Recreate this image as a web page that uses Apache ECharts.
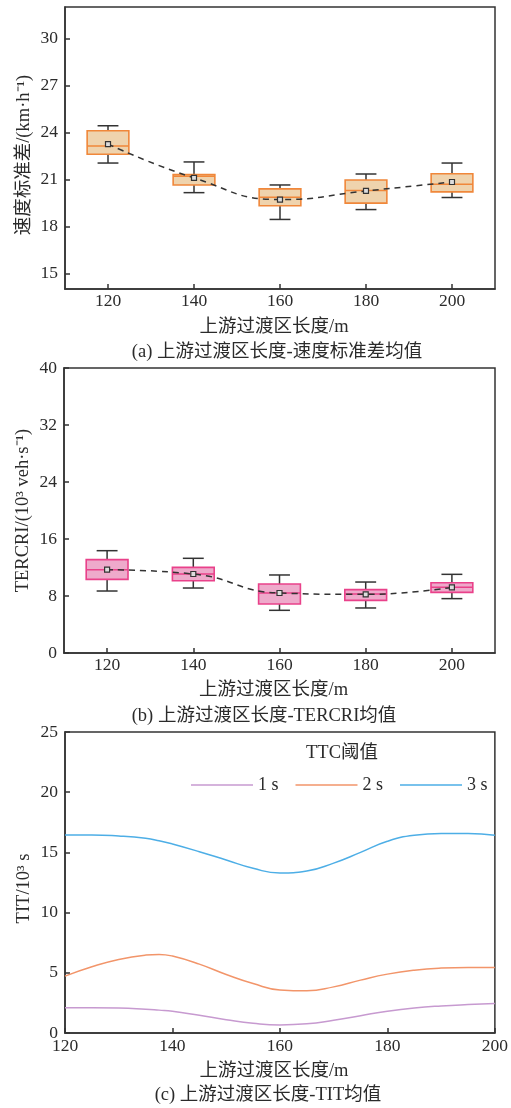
<!DOCTYPE html>
<html><head><meta charset="utf-8">
<script src="https://cdn.jsdelivr.net/npm/echarts@6/dist/echarts.min.js"></script>
<style>html,body{margin:0;padding:0;background:#fff}#c{width:511px;height:1108px}</style>
</head><body><div id="c"></div>
<script>
// ---------- data ----------
const categories = ['120', '140', '160', '180', '200'];
// (a) speed standard deviation, km/h
const speedMin    = [22.04, 20.15, 18.44, 19.07, 19.84];
const speedQ1     = [22.60, 20.64, 19.31, 19.48, 20.20];
const speedMedian = [23.13, 21.19, 19.86, 20.28, 20.69];
const speedQ3     = [24.10, 21.30, 20.39, 20.96, 21.36];
const speedMax    = [24.42, 22.11, 20.64, 21.34, 22.04];
const speedMean   = [23.25, 21.09, 19.71, 20.26, 20.83];
const speedTicks  = [15, 18, 21, 24, 27, 30];
// (b) TERCRI, 10^3 veh/s
const tercriMin    = [8.70, 9.12, 5.99, 6.32, 7.63];
const tercriQ1     = [10.34, 10.15, 6.88, 7.39, 8.51];
const tercriMedian = [11.70, 11.09, 8.42, 8.28, 9.22];
const tercriQ3     = [13.10, 12.02, 9.68, 8.89, 9.87];
const tercriMax    = [14.36, 13.29, 10.95, 9.96, 11.04];
const tercriMean   = [11.70, 11.09, 8.42, 8.23, 9.22];
// (c) TIT, 10^3 s
const titX   = [120, 125, 130, 135, 137.5, 140, 145, 150, 155, 160, 165, 170, 175, 180, 185, 190, 195, 200];
const tit1s  = [2.09, 2.10, 2.08, 1.98, 1.90, 1.81, 1.47, 1.11, 0.81, 0.67, 0.76, 1.06, 1.44, 1.81, 2.08, 2.25, 2.36, 2.44];
const tit2s  = [4.72, 5.50, 6.11, 6.47, 6.53, 6.39, 5.72, 4.86, 4.11, 3.58, 3.50, 3.83, 4.39, 4.89, 5.22, 5.39, 5.44, 5.44];
const tit3s  = [16.45, 16.45, 16.36, 16.17, 15.97, 15.70, 15.06, 14.37, 13.68, 13.28, 13.45, 14.11, 15.00, 15.92, 16.42, 16.56, 16.56, 16.42];
const legendNames = ['1 s', '2 s', '3 s'];

// ---------- styles ----------
const FONT = "'Liberation Serif','Times New Roman','Noto Sans CJK SC',serif";
const TXT = '#2b2b2b';
const AX = '#333';

function boxData(mn, q1, md, q3, mx) {
  return categories.map((c, i) => [i, mn[i], q1[i], md[i], q3[i], mx[i]]);
}
function boxRender(stroke, fill) {
  return function (params, api) {
    const x = api.value(0);
    const lo = api.coord([x, api.value(1)]);
    const q1 = api.coord([x, api.value(2)]);
    const md = api.coord([x, api.value(3)]);
    const q3 = api.coord([x, api.value(4)]);
    const hi = api.coord([x, api.value(5)]);
    const bw = api.size([1, 0])[0] * 0.485;
    const cw = bw / 2;
    const cx = lo[0];
    const wStyle = { stroke: '#333', lineWidth: 1.5 };
    return {
      type: 'group',
      children: [
        { type: 'line', shape: { x1: cx, y1: lo[1], x2: cx, y2: hi[1] }, style: wStyle },
        { type: 'line', shape: { x1: cx - cw / 2, y1: lo[1], x2: cx + cw / 2, y2: lo[1] }, style: wStyle },
        { type: 'line', shape: { x1: cx - cw / 2, y1: hi[1], x2: cx + cw / 2, y2: hi[1] }, style: wStyle },
        { type: 'rect', shape: { x: cx - bw / 2, y: q3[1], width: bw, height: q1[1] - q3[1] },
          style: { fill: fill, stroke: stroke, lineWidth: 1.6 } },
        { type: 'line', shape: { x1: cx - bw / 2, y1: md[1], x2: cx + bw / 2, y2: md[1] },
          style: { stroke: stroke, lineWidth: 1.5 } }
      ]
    };
  };
}

const axisLabelStyle = { color: TXT, fontFamily: FONT, fontSize: 17.5 };
const nameStyle = { color: TXT, fontFamily: FONT, fontSize: 18.5 };
const lineAxis = { show: true, lineStyle: { color: AX, width: 1.5 } };

function catX(gi, gap) {
  return {
    type: 'category', gridIndex: gi, data: categories, boundaryGap: true,
    axisLine: lineAxis,
    axisTick: { show: true, inside: true, alignWithLabel: true, length: 5, lineStyle: { color: AX, width: 1.5 } },
    axisLabel: Object.assign({ margin: 4 }, axisLabelStyle),
    name: '上游过渡区长度/m', nameLocation: 'middle', nameGap: gap,
    nameTextStyle: Object.assign({ padding: [0, 12, 0, 0] }, nameStyle),
    splitLine: { show: false }
  };
}

const option = {
  animation: false,
  backgroundColor: '#fff',
  grid: [
    { left: 65, top: 7, width: 430, height: 282, show: true, borderColor: AX, borderWidth: 1.5, backgroundColor: 'transparent' },
    { left: 64, top: 368, width: 431, height: 285, show: true, borderColor: AX, borderWidth: 1.5, backgroundColor: 'transparent' },
    { left: 65, top: 732, width: 430, height: 301, show: true, borderColor: AX, borderWidth: 1.5, backgroundColor: 'transparent' }
  ],
  xAxis: [
    catX(0, 29),
    catX(1, 28),
    {
      type: 'value', gridIndex: 2, min: 120, max: 200, interval: 20,
      axisLine: lineAxis,
      axisTick: { show: true, inside: true, length: 5, lineStyle: { color: AX, width: 1.5 } },
      axisLabel: Object.assign({ margin: 5 }, axisLabelStyle),
      splitLine: { show: false },
      name: '上游过渡区长度/m', nameLocation: 'middle', nameGap: 29,
      nameTextStyle: Object.assign({ padding: [0, 12, 0, 0] }, nameStyle)
    }
  ],
  yAxis: [
    {
      type: 'value', gridIndex: 0, min: 14, max: 32,
      axisLine: lineAxis,
      axisTick: { show: true, inside: true, length: 5, customValues: speedTicks, lineStyle: { color: AX, width: 1.5 } },
      axisLabel: Object.assign({ margin: 7, customValues: speedTicks }, axisLabelStyle),
      splitLine: { show: false },
      name: '速度标准差/(km·h⁻¹)', nameLocation: 'middle', nameGap: 32, nameMoveOverlap: false,
      nameTextStyle: Object.assign({ padding: [0, 14, 0, 0] }, nameStyle)
    },
    {
      type: 'value', gridIndex: 1, min: 0, max: 40, interval: 8,
      axisLine: lineAxis,
      axisTick: { show: true, inside: true, length: 5, lineStyle: { color: AX, width: 1.5 } },
      axisLabel: Object.assign({ margin: 7 }, axisLabelStyle),
      splitLine: { show: false },
      name: 'TERCRI/(10³ veh·s⁻¹)', nameLocation: 'middle', nameGap: 32, nameMoveOverlap: false,
      nameTextStyle: nameStyle
    },
    {
      type: 'value', gridIndex: 2, min: 0, max: 25, interval: 5,
      axisLine: lineAxis,
      axisTick: { show: true, inside: true, length: 5, lineStyle: { color: AX, width: 1.5 } },
      axisLabel: Object.assign({ margin: 7 }, axisLabelStyle),
      splitLine: { show: false },
      name: 'TIT/10³ s', nameLocation: 'middle', nameGap: 32, nameMoveOverlap: false,
      nameTextStyle: Object.assign({ padding: [0, 12, 0, 0] }, nameStyle)
    }
  ],
  legend: {
    data: legendNames, left: 186, top: 771, itemWidth: 62, itemHeight: 14, itemGap: 17,
    textStyle: { color: TXT, fontFamily: FONT, fontSize: 18, padding: [0, 0, 0, 0] },
    icon: 'path://M0,0 L62,0 L62,1.6 L0,1.6 Z'
  },
  graphic: [
    { type: 'text', x: 342, y: 753, style: { text: 'TTC阈值', fill: TXT, font: "18.5px " + FONT, textAlign: 'center', textVerticalAlign: 'middle' } },
    { type: 'text', x: 277, y: 352, style: { text: '(a) 上游过渡区长度-速度标准差均值', fill: TXT, font: "18.5px " + FONT, textAlign: 'center', textVerticalAlign: 'middle' } },
    { type: 'text', x: 264, y: 716, style: { text: '(b) 上游过渡区长度-TERCRI均值', fill: TXT, font: "18.5px " + FONT, textAlign: 'center', textVerticalAlign: 'middle' } },
    { type: 'text', x: 268, y: 1095, style: { text: '(c) 上游过渡区长度-TIT均值', fill: TXT, font: "18.5px " + FONT, textAlign: 'center', textVerticalAlign: 'middle' } }
  ],
  series: [
    {
      type: 'custom', xAxisIndex: 0, yAxisIndex: 0, z: 2,
      data: boxData(speedMin, speedQ1, speedMedian, speedQ3, speedMax),
      encode: { x: 0, y: [1, 2, 3, 4, 5] },
      renderItem: boxRender('#f0873a', '#efd3ad')
    },
    {
      type: 'line', xAxisIndex: 0, yAxisIndex: 0, z: 5, data: speedMean, smooth: 0.5,
      lineStyle: { color: '#333', width: 1.5, type: [6, 5] },
      symbol: 'rect', symbolSize: 5, showSymbol: true,
      itemStyle: { color: '#ddd', borderColor: '#333', borderWidth: 1.2 }
    },
    {
      type: 'custom', xAxisIndex: 1, yAxisIndex: 1, z: 2,
      data: boxData(tercriMin, tercriQ1, tercriMedian, tercriQ3, tercriMax),
      encode: { x: 0, y: [1, 2, 3, 4, 5] },
      renderItem: boxRender('#e9418a', '#eeaacb')
    },
    {
      type: 'line', xAxisIndex: 1, yAxisIndex: 1, z: 5, data: tercriMean, smooth: 0.5,
      lineStyle: { color: '#333', width: 1.5, type: [6, 5] },
      symbol: 'rect', symbolSize: 5, showSymbol: true,
      itemStyle: { color: '#ddd', borderColor: '#333', borderWidth: 1.2 }
    },
    {
      name: '1 s', type: 'line', xAxisIndex: 2, yAxisIndex: 2, smooth: 0.5, symbol: 'none',
      data: titX.map((x, i) => [x, tit1s[i]]), lineStyle: { color: '#c79ad0', width: 1.5 }, itemStyle: { color: '#c79ad0' }
    },
    {
      name: '2 s', type: 'line', xAxisIndex: 2, yAxisIndex: 2, smooth: 0.5, symbol: 'none',
      data: titX.map((x, i) => [x, tit2s[i]]), lineStyle: { color: '#f2956a', width: 1.5 }, itemStyle: { color: '#f2956a' }
    },
    {
      name: '3 s', type: 'line', xAxisIndex: 2, yAxisIndex: 2, smooth: 0.5, symbol: 'none',
      data: titX.map((x, i) => [x, tit3s[i]]), lineStyle: { color: '#4daee6', width: 1.5 }, itemStyle: { color: '#4daee6' }
    }
  ]
};
const chart = echarts.init(document.getElementById('c'), null, { renderer: 'canvas' });
chart.setOption(option);
</script>
</body></html>
